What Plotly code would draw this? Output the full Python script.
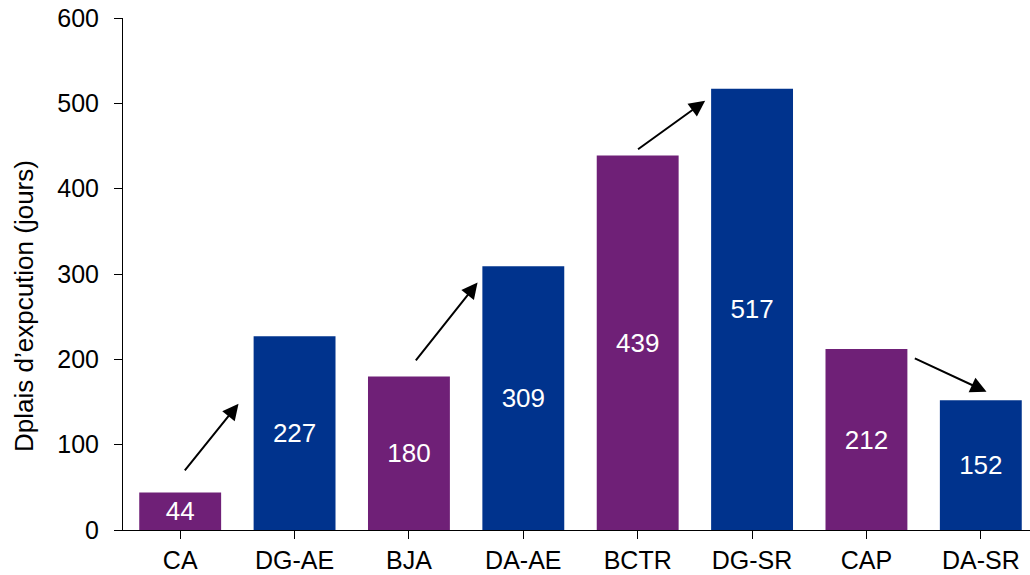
import plotly.graph_objects as go

categories = ["CA", "DG-AE", "BJA", "DA-AE", "BCTR", "DG-SR", "CAP", "DA-SR"]
values = [44, 227, 180, 309, 439, 517, 212, 152]
y_ticks = [0, 100, 200, 300, 400, 500, 600]
y_title = "Dplais d’expcution (jours)"

PURPLE = "#6F2077"
BLUE = "#00338D"
colors = [PURPLE if i % 2 == 0 else BLUE for i in range(len(categories))]

# arrows (tail x, tail y, head x, head y) in data coordinates
arrows = [
    (0.03, 68, 0.51, 148),
    (2.05, 197, 2.60, 290),
    (3.99, 445, 4.59, 503),
    (6.41, 202, 7.05, 162),
]

FONT = "Liberation Sans, Arial"

fig = go.Figure()
fig.add_trace(go.Bar(
    x=list(range(len(categories))),
    y=values,
    marker=dict(color=colors, line=dict(width=0)),
    width=0.716,
    text=[str(v) for v in values],
    textposition="inside",
    insidetextanchor="middle",
    textangle=0,
    textfont=dict(color="white", size=26, family=FONT),
    hoverinfo="skip",
))

for (x0, y0, x1, y1) in arrows:
    fig.add_annotation(
        x=x1, y=y1, ax=x0, ay=y0,
        xref="x", yref="y", axref="x", ayref="y",
        showarrow=True, arrowhead=2, arrowsize=1.6, arrowwidth=2,
        arrowcolor="black", text="",
    )

# y-axis title (placed as annotation to match its offset position)
fig.add_annotation(
    text=y_title, textangle=-90,
    xref="paper", yref="paper",
    x=(24 - 123) / 907, y=(530 - 306) / 512,
    xanchor="center", yanchor="middle",
    showarrow=False,
    font=dict(size=26, family=FONT, color="black"),
)

fig.update_layout(
    width=1030, height=575,
    margin=dict(l=123, r=0, t=18, b=45, autoexpand=False),
    paper_bgcolor="white", plot_bgcolor="white",
    showlegend=False,
    font=dict(family=FONT, size=25, color="black"),
)
fig.update_xaxes(
    range=[-0.5, 7.43],
    tickmode="array",
    tickvals=list(range(len(categories))),
    ticktext=categories,
    tickson="boundaries",
    ticks="outside", ticklen=8, tickcolor="black", tickwidth=1,
    showline=True, linecolor="black", linewidth=1,
    showgrid=False, zeroline=False,
    tickfont=dict(size=25),
    ticklabelstandoff=0,
    automargin=False,
)
fig.update_yaxes(
    range=[0, 600],
    tickmode="array", tickvals=y_ticks,
    ticks="outside", ticklen=8, tickcolor="black", tickwidth=1,
    showline=True, linecolor="black", linewidth=1,
    showgrid=False, zeroline=False,
    tickfont=dict(size=25),
    ticklabelstandoff=10,
    automargin=False,
)

fig.write_html("out.html")
